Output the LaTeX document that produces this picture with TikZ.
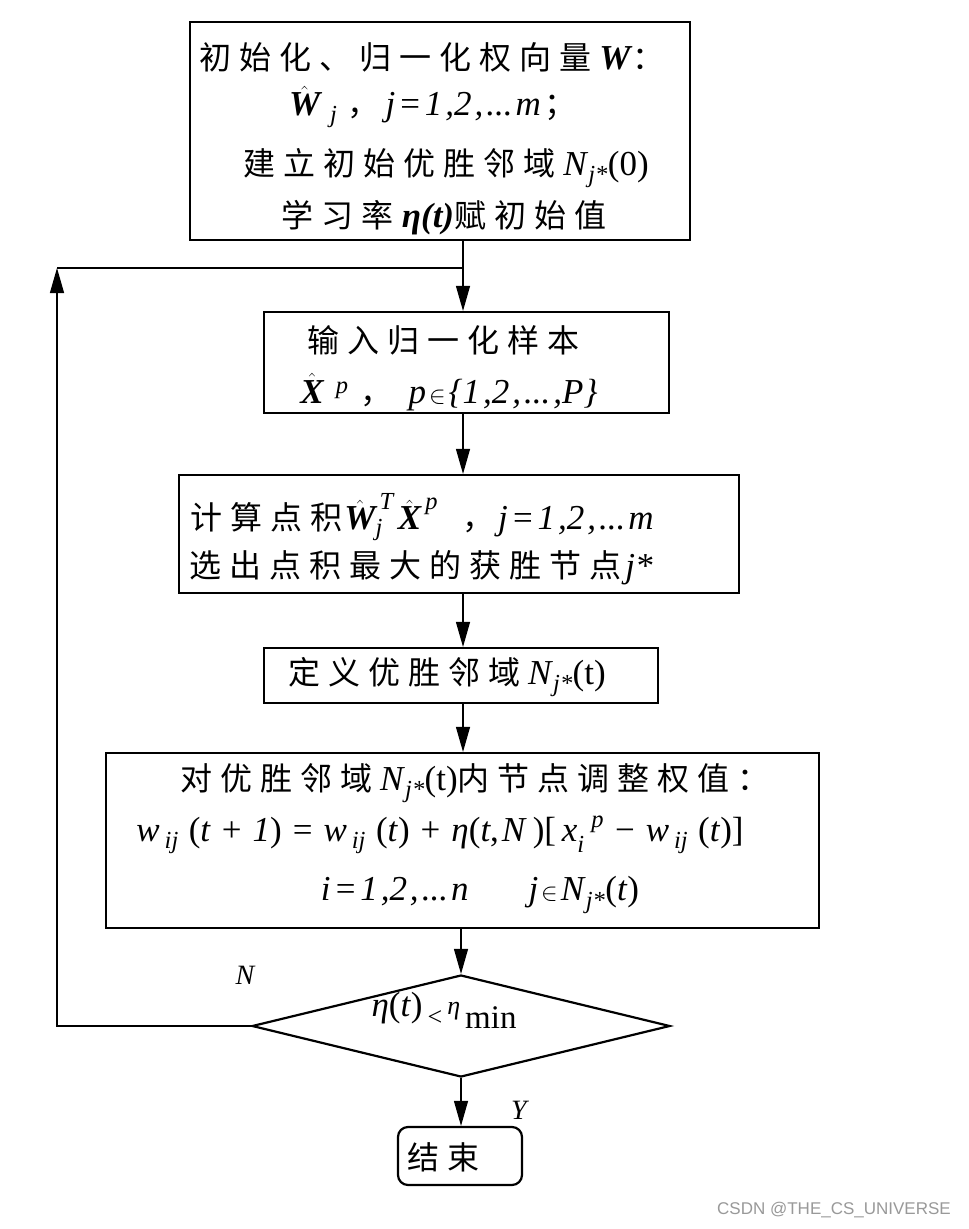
\documentclass[tikz,border=0pt]{standalone}
\usepackage{amsmath}
\usepackage{fontspec}
\setmainfont{Liberation Serif}
\newfontfamily\cjkfam[LetterSpace=25]{Noto Sans CJK SC}
\newcommand\zh[1]{{\fontsize{32}{34}\selectfont\cjkfam #1}}
\newfontfamily\wmfont{Liberation Sans}
\usetikzlibrary{arrows.meta,shapes.geometric}
\newcommand\hW{$\hat{\text{\bfseries\itshape W}}$}
\newcommand\hX{$\hat{\text{\bfseries\itshape X}}$}
\newcommand\wij{\textit{w}\hspace{5pt}\textsubscript{\itshape ij}\hspace{10pt}}
\newcommand\gp{\hspace{11pt}}
\newcommand\tg{\hspace{3pt}}
\tikzset{
  box/.style={draw, line width=2.2pt, inner sep=0pt},
  conn/.style={line width=1.2pt},
  arr/.style={conn, -{Triangle[length=25pt,width=14pt]}},
  txt/.style={font=\fontsize{35}{36}\selectfont, inner sep=0pt},
  lbl/.style={font=\fontsize{28}{30}\selectfont\itshape, inner sep=0pt},
}
\begin{document}
\begin{tikzpicture}[x=1pt,y=-1pt]
\fill[white] (0,0) rectangle (969,1229);
\useasboundingbox (0,0) rectangle (969,1229);
\coordinate (spine) at (463,0);
% boxes
\node[box, minimum width=500pt, minimum height=218pt] (b1) at (440,131) {};
\node[box, minimum width=405pt, minimum height=101pt] (b2) at (466.5,362.5) {};
\node[box, minimum width=560pt, minimum height=118pt] (b3) at (459,534) {};
\node[box, minimum width=394pt, minimum height=55pt] (b4) at (461,675.5) {};
\node[box, minimum width=713pt, minimum height=175pt] (b5) at (462.5,840.5) {};
\node[draw, line width=2.2pt, diamond, aspect=4, inner sep=0pt, minimum width=418pt, minimum height=102pt] (dia) at (461,1026) {};
\node[box, rounded corners=10pt, minimum width=124pt, minimum height=58pt] (end) at (460,1156) {};
% texts box 1
\node[txt] (t11) at (432,57) {\zh{初始化、归一化权向量}\textbf{\textit{W}}\zh{：}};
\node[txt] (t12) at (433,107) {\hW\hspace{10pt}\textsubscript{\itshape j}\hspace{10pt}\zh{，}\hspace{6pt}\textit{j\tg=\tg1\tg,2\tg,\tg...\tg m}\hspace{4pt}\zh{；}};
\node[txt] (t13) at (446,168) {\zh{建立初始优胜邻域}\hspace{8pt}\textit{N}\textsubscript{\itshape j*}(0)};
\node[txt] (t14) at (444,218) {\zh{学习率}\textbf{\textit{η(t)}}\zh{赋初始值}};
% box 2
\node[txt] (t21) at (443,340) {\zh{输入归一化样本}};
\node[txt] (t22) at (449,392) {\hX\hspace{12pt}\textsuperscript{\itshape p}\hspace{12pt}\zh{，}\hspace{16pt}\textit{p}\tg$\in$\tg\textit{\{1\tg,2\tg,\tg...\tg,P\}}};
% box 3
\node[txt] (t31) at (422,517) {\zh{计算点积}\hspace{2pt}$\hat{\text{\bfseries\itshape W}}_{\text{\itshape j}}^{\,\text{\itshape T}}\,\hat{\text{\bfseries\itshape X}}^{\,\text{\itshape p}}$\hspace{24pt}\zh{，}\hspace{4pt}\textit{j\tg=\tg1\tg,2\tg,\tg...\tg m}};
\node[txt] (t32) at (421,568) {\zh{选出点积最大的获胜节点}\hspace{4pt}\textit{j*}};
% box 4
\node[txt] (t41) at (447,677) {\zh{定义优胜邻域}\hspace{8pt}\textit{N}\textsubscript{\itshape j*}(t)};
% box 5
\node[txt] (t51) at (475,783) {\zh{对优胜邻域}\hspace{8pt}\textit{N}\textsubscript{\itshape j*}(t)\zh{内节点调整权值：}};
\node[txt] (t52) at (440,835) {\wij(\textit{t}\gp+\gp\textit{1})\gp=\gp\wij(\textit{t})\gp+\gp\textit{η}(\textit{t},\tg\textit{N}\,)[\,$\text{\itshape x}_{\text{\itshape i}}^{\;\;\text{\itshape p}}$\gp−\gp\wij(\textit{t})]};
\node[txt] (t53) at (480,895) {\textit{i\tg=\tg1\tg,2\tg,\tg...\tg n}\hspace{60pt}\textit{j}\tg$\in$\tg\textit{N}\textsubscript{\itshape j*}(\textit{t})};
% diamond text
\node[txt] (dt) at (444,1010) {{\fontsize{35}{35}\selectfont\textit{η}(\textit{t})}\hspace{5pt}{\fontsize{26}{26}\selectfont\raisebox{-9pt}{<}\hspace{5pt}\raisebox{2pt}{\itshape η}}\hspace{5pt}{\fontsize{33}{33}\selectfont\raisebox{-12pt}{min}}};
% end
\node[txt] (te) at (443,1157) {\zh{结束}};
% labels
\node[lbl] (lN) at (245,975) {N};
\node[lbl] (lY) at (519,1110) {Y};
% connectors
\coordinate (jn) at (463,268);
\coordinate (lp) at (57,268);
\draw[arr] (b1.south -| spine) -- (b2.north -| spine);
\draw[arr] (b2.south -| spine) -- (b3.north -| spine);
\draw[arr] (b3.south -| spine) -- (b4.north -| spine);
\draw[arr] (b4.south -| spine) -- (b5.north -| spine);
\draw[arr] (b5.south -| dia.north) -- (dia.north);
\draw[arr] (dia.south) -- (end.north -| dia.south);
\draw[arr] (dia.west) -| (lp);
\draw[conn] (lp) -- (jn);
% watermark
\node[font=\wmfont\fontsize{17}{17}\selectfont, text=gray!80, inner sep=0pt] (wm) at (834,1210) {CSDN @THE\_CS\_UNIVERSE};
\end{tikzpicture}
\end{document}
